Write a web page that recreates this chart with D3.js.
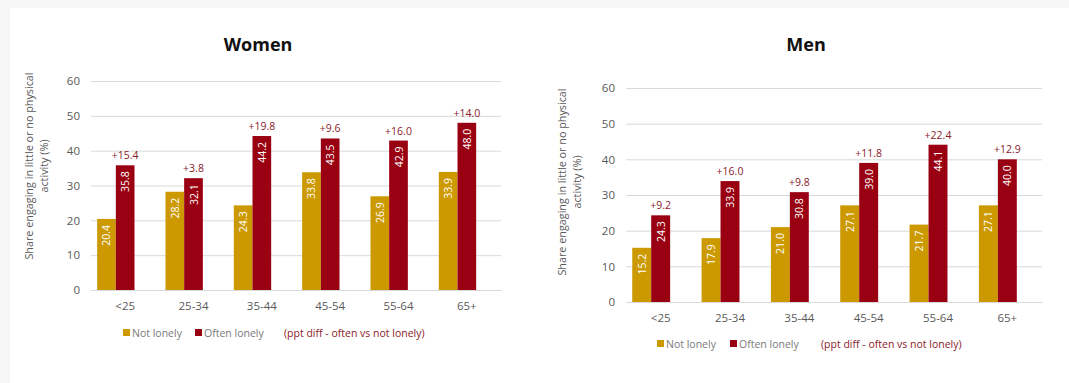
<!DOCTYPE html>
<html><head><meta charset="utf-8">
<script src="https://cdn.jsdelivr.net/npm/d3@7"></script>
<style>
body{margin:0;background:#f7f7f7;}
svg{display:block;}
</style></head>
<body>
<svg id="c" width="1069" height="383"></svg>
<script>
const categories = ["<25","25-34","35-44","45-54","55-64","65+"];
const womenNotLonely = [20.4,28.2,24.3,33.8,26.9,33.9];
const womenOftenLonely = [35.8,32.1,44.2,43.5,42.9,48.0];
const womenDiff = ["+15.4","+3.8","+19.8","+9.6","+16.0","+14.0"];
const menNotLonely = [15.2,17.9,21.0,27.1,21.7,27.1];
const menOftenLonely = [24.3,33.9,30.8,39.0,44.1,40.0];
const menDiff = ["+9.2","+16.0","+9.8","+11.8","+22.4","+12.9"];
const yTicks = [0,10,20,30,40,50,60];
const seriesNames = ["Not lonely","Often lonely"];
const diffLegend = "(ppt diff - often vs not lonely)";

const svg = d3.select("#c");
svg.append("rect").attr("x",10).attr("y",8).attr("width",1059).attr("height",375).attr("fill","#fff");
const FONT = "'Open Sans', 'Noto Sans', sans-serif";
const GOLD = "#CC9900", RED = "#990011", DIFF = "#8B1A2A", GRAY = "#595959";

function panel(o){
  const g = svg.append("g").attr("font-family",FONT);
  const x = d3.scaleBand().domain(categories).range([o.x0,o.x1]).paddingInner(0.18).paddingOuter(0.09);
  // three slots per category: two visible series + an empty slot (as in the source chart)
  const xs = d3.scaleBand().domain([0,1,2]).range([0,x.bandwidth()]);
  const y = d3.scaleLinear().domain([0,60]).range([o.yb,o.yt]);
  g.append("text").attr("x",o.tx).attr("y",51).attr("text-anchor","middle")
    .attr("font-size",18).attr("font-weight","bold").attr("fill","#111").text(o.title);
  const ax = d3.axisLeft(y).tickValues(yTicks).tickSize(-(o.x1-o.x0)).tickPadding(11);
  const ag = g.append("g").attr("transform",`translate(${o.x0},0)`).call(ax);
  ag.select(".domain").remove();
  ag.selectAll(".tick line").attr("stroke","#d9d9d9").attr("stroke-width",1);
  ag.selectAll(".tick text").attr("fill",GRAY).attr("font-size",11.5).attr("font-family",FONT);
  const bx = d3.axisBottom(x).tickSize(0).tickPadding(12);
  const bg = g.append("g").attr("transform",`translate(0,${o.yb})`).call(bx);
  bg.select(".domain").attr("stroke","#d9d9d9");
  bg.selectAll(".tick text").attr("fill",GRAY).attr("font-size",11.5).attr("font-family",FONT);
  const series = [o.a,o.b];
  const cols = [GOLD,RED];
  series.forEach((vals,si)=>{
    g.selectAll(null).data(vals).enter().append("rect")
      .attr("x",(d,i)=>x(categories[i])+xs(si)).attr("width",xs.bandwidth())
      .attr("y",d=>y(d)).attr("height",d=>y(0)-y(d)).attr("fill",cols[si]);
    g.selectAll(null).data(vals).enter().append("text")
      .attr("transform",(d,i)=>`translate(${x(categories[i])+xs(si)+xs.bandwidth()/2+4},${y(d)+6}) rotate(-90)`)
      .attr("text-anchor","end").attr("font-size",10.5).attr("fill","#fff").text(d=>d.toFixed(1));
  });
  g.selectAll(null).data(o.d).enter().append("text")
    .attr("x",(d,i)=>x(categories[i])+xs(1)+xs.bandwidth()/2)
    .attr("y",(d,i)=>y(o.b[i])-6).attr("text-anchor","middle")
    .attr("font-size",10.5).attr("fill",DIFF).text(d=>d);
  const yt = g.append("text").attr("transform",`translate(${o.ytx},${o.yty}) rotate(-90)`)
    .attr("text-anchor","middle").attr("font-size",10.8).attr("fill",GRAY);
  yt.append("tspan").attr("x",0).attr("dy",0).text("Share engaging in little or no physical");
  yt.append("tspan").attr("x",0).attr("dy",15).text("activity (%)");
  const ly = o.ly;
  [0,1].forEach(i=>{
    g.append("rect").attr("x",o.lx[i]).attr("y",ly-4).attr("width",7).attr("height",7).attr("fill",cols[i]);
    g.append("text").attr("x",o.lx[i]+9).attr("y",ly+3.5).attr("font-size",10.5).attr("fill","#7a7a7a").text(seriesNames[i]);
  });
  g.append("text").attr("x",o.lx[2]).attr("y",ly+3.5).attr("font-size",10.5).attr("fill",DIFF).text(diffLegend);
}

panel({title:"Women",tx:258,x0:91,x1:501,yt:81,yb:290,a:womenNotLonely,b:womenOftenLonely,d:womenDiff,
  ytx:33,yty:166,ly:333,lx:[123,195,284]});
panel({title:"Men",tx:806,x0:626,x1:1042,yt:88,yb:302,a:menNotLonely,b:menOftenLonely,d:menDiff,
  ytx:566,yty:182,ly:344,lx:[657,730,821]});
</script>
</body></html>
